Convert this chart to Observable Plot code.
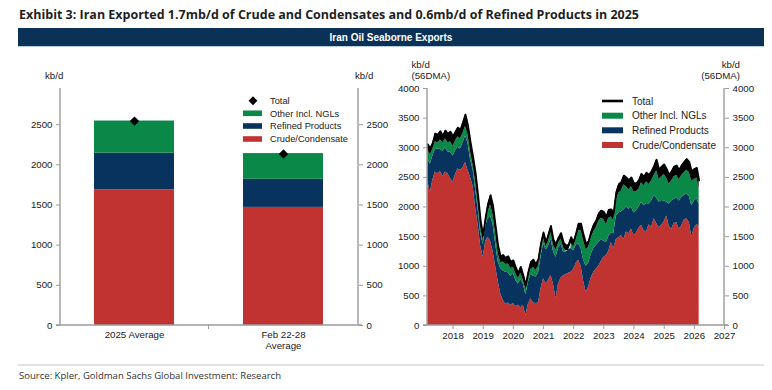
<!DOCTYPE html>
<html>
<head>
<meta charset="utf-8">
<script src="https://cdn.jsdelivr.net/npm/d3@7"></script>
<script src="https://cdn.jsdelivr.net/npm/@observablehq/plot@0.6"></script>
<style>
  html, body { margin: 0; padding: 0; background: #fff; }
  #wrap { position: relative; width: 772px; height: 390px; overflow: hidden; background: #fff; }
  #overlay { position: absolute; left: 0; top: 0; pointer-events: none; }
</style>
</head>
<body>
<div id="wrap"></div>
<script>
// ---------------- DATA ----------------
const seriesNames = ["Crude/Condensate", "Refined Products", "Other Incl. NGLs"];
const seriesColors = ["#c03331", "#08335e", "#0a8847"];

// Left chart: averages (kb/d)
const barCategories = ["2025 Average", "Feb 22-28\nAverage"];
const barCrude   = [1690, 1470];
const barRefined = [455, 350];
const barOther   = [400, 320];
const barTotal   = [2545, 2135];

// Right chart: 56DMA seaborne exports (kb/d), read at monthly points
const dates = [
 "2017-03-01","2017-04-01","2017-05-01","2017-06-01","2017-07-01","2017-08-01","2017-09-01","2017-10-01","2017-11-01","2017-12-01",
 "2018-01-01","2018-02-01","2018-03-01","2018-04-01","2018-05-01","2018-06-01","2018-07-01","2018-08-01","2018-09-01","2018-10-01","2018-11-01","2018-12-01",
 "2019-01-01","2019-02-01","2019-03-01","2019-04-01","2019-05-01","2019-06-01","2019-07-01","2019-08-01","2019-09-01","2019-10-01","2019-11-01","2019-12-01",
 "2020-01-01","2020-02-01","2020-03-01","2020-04-01","2020-05-01","2020-06-01","2020-07-01","2020-08-01","2020-09-01","2020-10-01","2020-11-01","2020-12-01",
 "2021-01-01","2021-02-01","2021-03-01","2021-04-01","2021-05-01","2021-06-01","2021-07-01","2021-08-01","2021-09-01","2021-10-01","2021-11-01","2021-12-01",
 "2022-01-01","2022-02-01","2022-03-01","2022-04-01","2022-05-01","2022-06-01","2022-07-01","2022-08-01","2022-09-01","2022-10-01","2022-11-01","2022-12-01",
 "2023-01-01","2023-02-01","2023-03-01","2023-04-01","2023-05-01","2023-06-01","2023-07-01","2023-08-01","2023-09-01","2023-10-01","2023-11-01","2023-12-01",
 "2024-01-01","2024-02-01","2024-03-01","2024-04-01","2024-05-01","2024-06-01","2024-07-01","2024-08-01","2024-09-01","2024-10-01","2024-11-01","2024-12-01",
 "2025-01-01","2025-02-01","2025-03-01","2025-04-01","2025-05-01","2025-06-01","2025-07-01","2025-08-01","2025-09-01","2025-10-01","2025-11-01","2025-12-01",
 "2026-01-01","2026-02-01","2026-02-28"
];
// Crude/Condensate
const crude = [
 2440,2250,2450,2590,2560,2600,2520,2590,2560,2480,
 2420,2550,2640,2620,2660,2750,2620,2500,2350,2000,1700,1350,
 1150,1420,1490,1420,1250,1000,750,540,420,360,380,340,
 370,320,340,300,340,170,360,450,380,370,380,620,
 790,700,760,850,700,450,700,800,840,860,880,900,
 950,1050,1100,1000,750,560,650,800,900,950,1000,1080,
 1150,1180,1250,1400,1300,1450,1480,1520,1450,1580,1550,1630,
 1520,1560,1640,1690,1600,1580,1700,1650,1800,1720,1650,1690,
 1750,1850,1680,1620,1720,1740,1630,1680,1780,1800,1740,1500,
 1640,1700,1680
];
// Crude + Refined Products (top of the navy layer)
const crudeRefined = [
 2820,2720,2860,2970,2980,2970,2940,3000,2930,2930,
 2860,2950,3010,2980,3080,3200,3080,2800,2630,2300,1960,1560,
 1370,1680,1800,1850,1700,1380,1080,960,920,900,890,830,
 880,760,700,780,700,520,720,860,830,820,880,1150,
 1380,1280,1330,1460,1250,1150,1300,1370,1230,1240,1280,1300,
 1260,1360,1380,1300,1100,1000,1050,1200,1300,1350,1400,1450,
 1420,1400,1500,1560,1550,1850,1900,1920,1950,2000,1960,2000,
 1900,1940,2000,2080,2020,2060,2050,2100,2190,2150,2080,2110,
 2100,2080,2050,2100,2130,2150,2100,2160,2200,2220,2180,2020,
 2100,2140,2050
];
// Crude + Refined + Other (top of the green layer)
const crudeRefinedOther = [
 2960,2880,2970,3100,3080,3130,3080,3150,3080,3100,
 3020,3120,3180,3150,3240,3360,3220,2930,2700,2420,2060,1660,
 1430,1740,1920,2040,1860,1550,1220,1060,1070,1030,1040,960,
 980,870,790,880,760,600,800,950,980,930,1000,1260,
 1470,1320,1430,1570,1350,1270,1390,1460,1310,1260,1270,1390,
 1320,1460,1600,1600,1420,1280,1320,1480,1580,1650,1760,1810,
 1790,1700,1810,1830,1770,2100,2230,2270,2370,2340,2290,2340,
 2250,2260,2300,2410,2360,2420,2380,2440,2530,2610,2460,2510,
 2550,2480,2390,2440,2510,2530,2460,2530,2580,2620,2580,2430,
 2470,2490,2300
];
// Total
const total = [
 3060,2990,3080,3240,3220,3280,3200,3290,3230,3270,
 3190,3270,3340,3300,3420,3560,3380,3100,2850,2580,2200,1780,
 1520,1830,2050,2200,2020,1680,1350,1160,1190,1140,1170,1070,
 1100,980,880,990,850,680,900,1070,1110,1030,1120,1380,
 1570,1400,1530,1680,1450,1370,1480,1560,1400,1350,1360,1490,
 1410,1560,1720,1720,1530,1380,1420,1580,1700,1770,1890,1940,
 1920,1830,1950,1960,1900,2250,2380,2420,2530,2500,2450,2500,
 2400,2400,2450,2560,2510,2580,2540,2600,2690,2800,2630,2680,
 2720,2640,2540,2600,2680,2700,2620,2700,2760,2810,2760,2600,
 2640,2660,2450
];

const leftTicks = [0, 500, 1000, 1500, 2000, 2500];
const rightTicks = [0, 500, 1000, 1500, 2000, 2500, 3000, 3500, 4000];
const yearTicks = ["2018","2019","2020","2021","2022","2023","2024","2025","2026","2027"];

// ---------------- TABLES ----------------
const barRows = [];
barCategories.forEach((c, i) => {
  barRows.push({cat: c, series: seriesNames[0], value: barCrude[i]});
  barRows.push({cat: c, series: seriesNames[1], value: barRefined[i]});
  barRows.push({cat: c, series: seriesNames[2], value: barOther[i]});
});
const barTotalRows = barCategories.map((c, i) => ({cat: c, total: barTotal[i]}));

const areaRows = [];
const totalRows = [];
dates.forEach((d, i) => {
  const date = new Date(d + "T00:00:00Z");
  areaRows.push({date, series: seriesNames[0], value: crude[i]});
  areaRows.push({date, series: seriesNames[1], value: crudeRefined[i] - crude[i]});
  areaRows.push({date, series: seriesNames[2], value: crudeRefinedOther[i] - crudeRefined[i]});
  totalRows.push({date, stackTop: crudeRefinedOther[i], total: total[i]});
});
const yearDates = yearTicks.map(y => new Date(y + "-01-01T00:00:00Z"));

// ---------------- HELPERS ----------------
const FONT = "'Liberation Sans', Arial, Helvetica, sans-serif";
const AXIS_GRAY = "#9b9b9b";
const TEXT = "#222";
const intFmt = d => String(d);

function frameLines(withMiddleTick) {
  return (index, scales, values, dims) => {
    const g = d3.create("svg:g").attr("stroke", AXIS_GRAY).attr("stroke-width", 1.4).attr("fill", "none");
    const x0 = dims.marginLeft, x1 = dims.width - dims.marginRight;
    const y0 = dims.marginTop, y1 = dims.height - dims.marginBottom;
    g.append("line").attr("x1", x0).attr("x2", x0).attr("y1", y0).attr("y2", y1);
    g.append("line").attr("x1", x1).attr("x2", x1).attr("y1", y0).attr("y2", y1);
    g.append("line").attr("x1", x0 - 4).attr("x2", x1 + 4).attr("y1", y1).attr("y2", y1);
    if (withMiddleTick && scales.x && scales.x.bandwidth) {
      const bw = scales.x.bandwidth();
      const a = scales.x(barCategories[0]) + bw / 2, b = scales.x(barCategories[1]) + bw / 2;
      const m = (a + b) / 2;
      g.append("line").attr("x1", m).attr("x2", m).attr("y1", y1).attr("y2", y1 + 4).attr("stroke-width", 1);
    }
    return g.node();
  };
}

// ---------------- LEFT CHART ----------------
const wrap = document.getElementById("wrap");

const left = Plot.plot({
  width: 390, height: 300,
  marginLeft: 60, marginRight: 32, marginTop: 38, marginBottom: 25,
  style: {fontFamily: FONT, fontSize: "9.7px", color: TEXT, background: "transparent", overflow: "visible"},
  x: {domain: barCategories, paddingInner: 0.46, paddingOuter: 0.23},
  y: {domain: [0, 2950]},
  color: {domain: seriesNames, range: seriesColors},
  marks: [
    Plot.barY(barRows, {x: "cat", y: "value", fill: "series", order: seriesNames}),
    Plot.dot(barTotalRows, {x: "cat", y: "total", symbol: "diamond2", r: 4.2, fill: "#000", stroke: "none"}),
    frameLines(true),
    Plot.axisY(leftTicks, {anchor: "left", tickSize: 4, tickPadding: 4, tickFormat: intFmt, stroke: AXIS_GRAY, fill: TEXT, label: null}),
    Plot.axisY(leftTicks, {anchor: "right", tickSize: 4, tickPadding: 4, tickFormat: intFmt, stroke: AXIS_GRAY, fill: TEXT, label: null}),
    Plot.axisX({anchor: "bottom", tickSize: 0, tickPadding: 4, lineHeight: 1.2, fill: TEXT, label: null})
  ]
});
left.style.position = "absolute";
left.style.left = "0px";
left.style.top = "50px";
wrap.appendChild(left);

// ---------------- RIGHT CHART ----------------
const right = Plot.plot({
  width: 387, height: 300,
  marginLeft: 42, marginRight: 48, marginTop: 38, marginBottom: 25,
  style: {fontFamily: FONT, fontSize: "9.7px", color: TEXT, background: "transparent", overflow: "visible"},
  x: {type: "utc", domain: [new Date("2017-02-26T00:00:00Z"), new Date("2027-01-01T00:00:00Z")]},
  y: {domain: [0, 4000]},
  color: {domain: seriesNames, range: seriesColors},
  marks: [
    Plot.areaY(areaRows, {x: "date", y: "value", fill: "series", order: seriesNames, curve: "linear"}),
    Plot.areaY(totalRows, {x: "date", y1: "stackTop", y2: "total", fill: "#000", curve: "linear"}),
    Plot.lineY(totalRows, {x: "date", y: "total", stroke: "#000", strokeWidth: 1.8, curve: "linear"}),
    frameLines(false),
    Plot.axisY(rightTicks, {anchor: "left", tickSize: 4, tickPadding: 4, tickFormat: intFmt, stroke: AXIS_GRAY, fill: TEXT, label: null}),
    Plot.axisY(rightTicks, {anchor: "right", tickSize: 4, tickPadding: 4, tickFormat: intFmt, stroke: AXIS_GRAY, fill: TEXT, label: null}),
    Plot.axisX(yearDates, {anchor: "bottom", tickSize: 4, tickPadding: 3, tickFormat: "%Y", stroke: AXIS_GRAY, fill: TEXT, label: null})
  ]
});
right.style.position = "absolute";
right.style.left = "385px";
right.style.top = "50px";
wrap.appendChild(right);

// ---------------- OVERLAY: titles, legends, units, source ----------------
const ov = d3.select(wrap).append("svg").attr("id", "overlay")
  .attr("width", 772).attr("height", 390).attr("viewBox", "0 0 772 390");

ov.append("text").attr("x", 19).attr("y", 19)
  .attr("font-family", "'Open Sans', 'Noto Sans', sans-serif").attr("font-weight", 700)
  .attr("font-size", 12.6).attr("fill", "#1e1e1e")
  .attr("textLength", 620).attr("lengthAdjust", "spacingAndGlyphs")
  .text("Exhibit 3: Iran Exported 1.7mb/d of Crude and Condensates and 0.6mb/d of Refined Products in 2025");

ov.append("rect").attr("x", 18).attr("y", 28).attr("width", 746).attr("height", 18).attr("fill", "#0b3157");
ov.append("line").attr("x1", 18).attr("x2", 764).attr("y1", 46.5).attr("y2", 46.5).attr("stroke", "#b9cde3").attr("stroke-width", 1);
ov.append("text").attr("x", 391).attr("y", 40.6).attr("text-anchor", "middle")
  .attr("font-family", FONT).attr("font-weight", 700).attr("font-size", 10).attr("fill", "#fff")
  .text("Iran Oil Seaborne Exports");

// unit labels
const unit = (x, y, t, anchor) => ov.append("text").attr("x", x).attr("y", y)
  .attr("text-anchor", anchor || "start").attr("font-family", FONT).attr("font-size", 9.7).attr("fill", TEXT).text(t);
unit(45, 78.5, "kb/d");
unit(355, 78.5, "kb/d");
unit(411.5, 67.5, "kb/d");
unit(411.5, 79, "(56DMA)");
unit(740, 67.5, "kb/d", "end");
unit(740, 79, "(56DMA)", "end");

// left legend
const lgL = ov.append("g").attr("font-family", FONT).attr("font-size", 9.3).attr("fill", TEXT);
lgL.append("path").attr("d", d3.symbol(d3.symbolDiamond2, 50)()).attr("transform", "translate(253,100.7)").attr("fill", "#000");
lgL.append("text").attr("x", 270).attr("y", 104).text("Total");
[[seriesNames[2], 113.3, seriesColors[2]], [seriesNames[1], 126, seriesColors[1]], [seriesNames[0], 139, seriesColors[0]]].forEach(([name, y, c]) => {
  lgL.append("rect").attr("x", 243).attr("y", y - 2.8).attr("width", 19).attr("height", 5.6).attr("fill", c);
  lgL.append("text").attr("x", 270).attr("y", y + 3.3).text(name);
});

// right legend
const lgR = ov.append("g").attr("font-family", FONT).attr("font-size", 10).attr("fill", TEXT);
lgR.append("line").attr("x1", 602).attr("x2", 623).attr("y1", 101).attr("y2", 101).attr("stroke", "#000").attr("stroke-width", 2.6);
lgR.append("text").attr("x", 632).attr("y", 104.5).text("Total");
[[seriesNames[2], 115.7, seriesColors[2]], [seriesNames[1], 130.3, seriesColors[1]], [seriesNames[0], 145, seriesColors[0]]].forEach(([name, y, c]) => {
  lgR.append("rect").attr("x", 602).attr("y", y - 3).attr("width", 21).attr("height", 6).attr("fill", c);
  lgR.append("text").attr("x", 632).attr("y", y + 3.5).text(name);
});

// source
ov.append("line").attr("x1", 18).attr("x2", 764).attr("y1", 365).attr("y2", 365).attr("stroke", "#d8d8d8").attr("stroke-width", 1.3);
ov.append("text").attr("x", 19).attr("y", 379)
  .attr("font-family", "'Open Sans', 'Noto Sans', sans-serif").attr("font-size", 9).attr("fill", "#333")
  .attr("textLength", 262).attr("lengthAdjust", "spacingAndGlyphs")
  .text("Source: Kpler, Goldman Sachs Global Investment: Research");
</script>
</body>
</html>
